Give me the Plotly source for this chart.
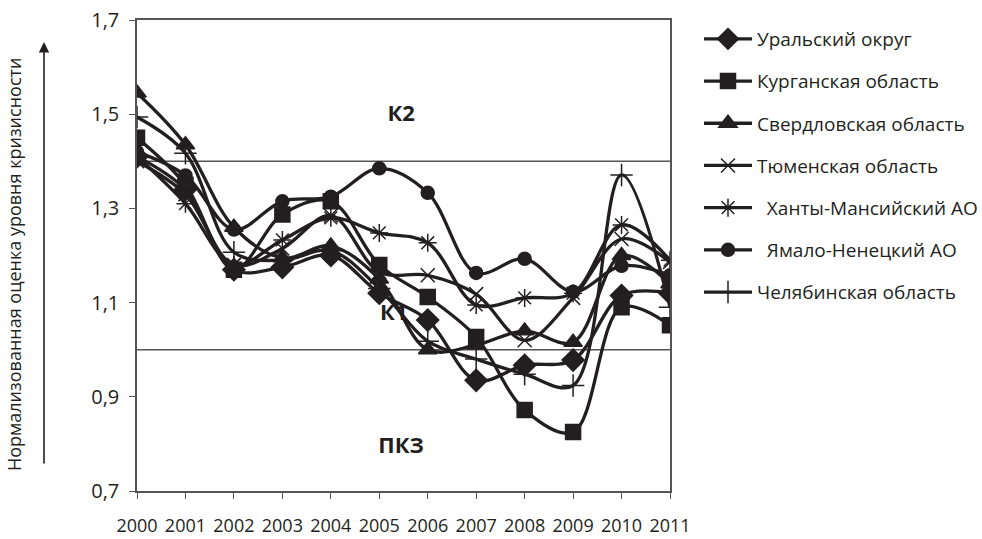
import plotly.graph_objects as go

years = [2000, 2001, 2002, 2003, 2004, 2005, 2006, 2007, 2008, 2009, 2010, 2011]

ural = [1.41, 1.34, 1.17, 1.175, 1.20, 1.12, 1.063, 0.935, 0.967, 0.978, 1.115, 1.12]
kurgan = [1.45, 1.35, 1.17, 1.287, 1.315, 1.18, 1.112, 1.027, 0.872, 0.825, 1.09, 1.052]
sverd = [1.545, 1.435, 1.26, 1.195, 1.22, 1.15, 1.0, 1.01, 1.04, 1.016, 1.20, 1.14]
tyumen = [1.40, 1.33, 1.18, 1.215, 1.285, 1.165, 1.158, 1.118, 1.02, 1.11, 1.235, 1.186]
khanty = [1.41, 1.31, 1.18, 1.233, 1.28, 1.248, 1.227, 1.095, 1.11, 1.12, 1.265, 1.19]
yamal = [1.42, 1.37, 1.255, 1.315, 1.325, 1.385, 1.333, 1.163, 1.193, 1.123, 1.178, 1.158]
chel = [1.494, 1.417, 1.207, 1.19, 1.21, 1.13, 1.018, 0.98, 0.948, 0.924, 1.371, 1.09]

names = ["Уральский округ", "Курганская область", "Свердловская область",
         "Тюменская область", "\u00a0\u00a0Ханты-Мансийский АО",
         "\u00a0\u00a0Ямало-Ненецкий АО", "Челябинская область"]
series = [ural, kurgan, sverd, tyumen, khanty, yamal, chel]
symbols = ["diamond", "square", "triangle-up", "x-thin-open", "asterisk-open",
           "circle", "cross-thin-open"]
sizes = [17, 15, 16, 14, 15, 13, 16]

zone_labels = ["К2", "К1", "ПКЗ"]
zone_x = [2005.45, 2005.3, 2005.45]
zone_y = [1.498, 1.074, 0.793]

thresholds = [1.4, 1.0]

ytick_vals = [0.7, 0.9, 1.1, 1.3, 1.5, 1.7]
ytick_text = ["0,7", "0,9", "1,1", "1,3", "1,5", "1,7"]

ink = "#231f20"
font = "Open Sans"

# layout geometry (pixels); figure slightly wider than the window so the
# legend's padding can sit past the right edge without pushing the margins
W, H = 1000, 539
L, R, T, B = 137, 0, 20, 48
PW = W - L - R
PH = H - T - B
plot_w = 533


def px_x(px):
    """screen x pixel -> paper x"""
    return (px - L) / PW


def px_y(py):
    """screen y pixel -> paper y"""
    return (H - B - py) / PH


fig = go.Figure()

# Zone labels drawn first so the lines pass over them
fig.add_trace(go.Scatter(x=zone_x, y=zone_y, mode="text", text=zone_labels,
                         textfont=dict(family=font, size=22, color=ink, weight="bold"),
                         showlegend=False, hoverinfo="skip"))

for i, (nm, vals, sym, sz) in enumerate(zip(names, series, symbols, sizes)):
    fig.add_trace(go.Scatter(
        x=years, y=vals, name=nm, mode="lines+markers",
        line=dict(color=ink, width=3.3, shape="spline", smoothing=1.0),
        marker=dict(symbol=sym, size=sz, color=ink,
                    line=dict(color=ink, width=1.5)),
        legendgroup=str(i),
    ))

for t in thresholds:
    fig.add_shape(type="line", xref="x domain", x0=0, x1=1, yref="y", y0=t, y1=t,
                  line=dict(color="#555555", width=1.5), layer="below")

# y-axis title and arrow
fig.add_annotation(xref="paper", yref="paper", x=px_x(14), y=px_y(265),
                   xanchor="center", yanchor="middle",
                   text="Нормализованная оценка уровня кризисности",
                   textangle=-90, showarrow=False,
                   font=dict(family=font, size=18, color=ink))
fig.add_annotation(xref="paper", yref="paper", x=px_x(44), y=px_y(42),
                   text="", showarrow=True, ax=0, ay=423,
                   arrowhead=2, arrowsize=1.3, arrowwidth=1.6, arrowcolor=ink)

fig.update_layout(
    width=W, height=H,
    margin=dict(l=L, r=R, t=T, b=B),
    paper_bgcolor="white", plot_bgcolor="white",
    separators=", ",
    showlegend=True,
    legend=dict(x=px_x(699), y=px_y(20), xanchor="left", yanchor="top",
                font=dict(family=font, size=19, color=ink),
                traceorder="grouped", tracegroupgap=14.5, itemwidth=48,
                bgcolor="rgba(0,0,0,0)"),
    xaxis=dict(domain=[0, plot_w / PW], range=[2000, 2011], tickmode="array",
               tickvals=years, ticktext=[str(y) for y in years],
               automargin=False,
               showgrid=False, zeroline=False, showline=True, mirror=True,
               linecolor="#555555", linewidth=1.5,
               ticks="outside", ticklen=6, tickcolor="#555555", tickwidth=1.2,
               ticklabelstandoff=12,
               tickfont=dict(family=font, size=18, color=ink)),
    yaxis=dict(range=[0.7, 1.7], tickmode="array",
               tickvals=ytick_vals, ticktext=ytick_text,
               automargin=False,
               showgrid=False, zeroline=False, showline=True, mirror=True,
               linecolor="#555555", linewidth=1.5,
               ticks="outside", ticklen=6, tickcolor="#555555", tickwidth=1.2,
               ticklabelstandoff=6,
               tickfont=dict(family=font, size=20, color=ink)),
)

fig.write_html("out.html", config={"displayModeBar": False},
               post_script="document.body.style.margin='0';document.body.style.overflow='hidden';")
